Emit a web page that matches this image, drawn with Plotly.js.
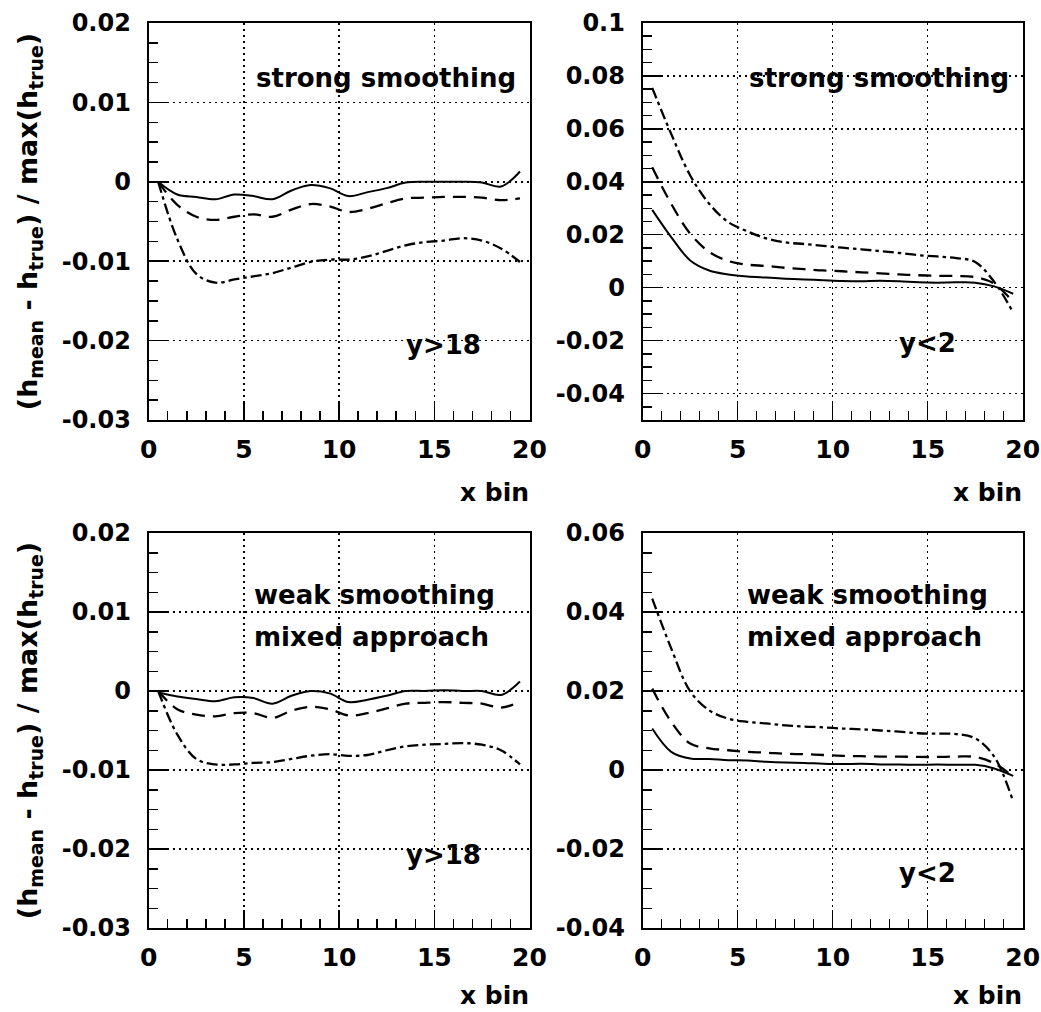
<!DOCTYPE html>
<html><head><meta charset="utf-8">
<script src="https://cdn.plot.ly/plotly-3.0.1.min.js"></script>
<style>html,body{margin:0;padding:0;background:#fff}</style>
</head><body><div id="chart" style="width:1041px;height:1012px"></div>
<script>
// bin centres
const xBin = [0.5,1.5,2.5,3.5,4.5,5.5,6.5,7.5,8.5,9.5,10.5,11.5,12.5,13.5,14.5,15.5,16.5,17.5,18.5,19.5];

// Panel A: strong smoothing, y>18
const aSolid = [0,-0.0016,-0.0019,-0.0022,-0.0016,-0.0018,-0.0022,-0.0011,-0.0004,-0.0008,-0.0018,-0.0013,-0.0008,-0.0001,0,0,0,-0.0001,-0.0006,0.0013];
const aDash  = [0,-0.0029,-0.0044,-0.0048,-0.0044,-0.0041,-0.0044,-0.0035,-0.0028,-0.0031,-0.0038,-0.0034,-0.0027,-0.0021,-0.002,-0.0019,-0.0019,-0.002,-0.0023,-0.0021];
const aDot   = [0,-0.0072,-0.0116,-0.0127,-0.0123,-0.0119,-0.0115,-0.0108,-0.0101,-0.0098,-0.0098,-0.0094,-0.0087,-0.008,-0.0076,-0.0074,-0.0071,-0.0074,-0.0084,-0.0101];

// Panel B: strong smoothing, y<2
const bSolid = [0.0294,0.0191,0.0103,0.0065,0.005,0.0042,0.0038,0.0034,0.0031,0.0028,0.0025,0.0024,0.0026,0.0024,0.002,0.0019,0.002,0.0019,0.0005,-0.0023];
const bDash  = [0.0455,0.0317,0.0204,0.0135,0.0101,0.0087,0.0082,0.0075,0.007,0.0065,0.0062,0.0058,0.0054,0.005,0.0047,0.0045,0.0044,0.004,0.0015,-0.0054];
const bDot   = [0.0755,0.0581,0.0424,0.0317,0.0248,0.0213,0.0186,0.0171,0.0165,0.0158,0.0151,0.0145,0.0138,0.0131,0.0123,0.0118,0.0112,0.0097,0.0022,-0.0094];

// Panel C: weak smoothing / mixed approach, y>18
const cSolid = [-0.0002,-0.0007,-0.001,-0.0013,-0.0008,-0.0009,-0.0016,-0.0006,0,-0.0003,-0.0014,-0.0011,-0.0006,0,0,0.0001,0,0,-0.0005,0.0012];
const cDash  = [0,-0.0023,-0.003,-0.0032,-0.0028,-0.0028,-0.0034,-0.0025,-0.002,-0.0023,-0.0031,-0.0028,-0.0022,-0.0016,-0.0015,-0.0014,-0.0015,-0.0016,-0.0021,-0.0014];
const cDot   = [0,-0.0055,-0.0086,-0.0093,-0.0093,-0.0091,-0.009,-0.0086,-0.0082,-0.008,-0.0082,-0.0081,-0.0075,-0.007,-0.0068,-0.0067,-0.0066,-0.0068,-0.0075,-0.0093];

// Panel D: weak smoothing / mixed approach, y<2
const dSolid = [0.0105,0.0046,0.0029,0.0028,0.0025,0.0024,0.0021,0.0019,0.0018,0.0016,0.0015,0.0016,0.0014,0.0014,0.0013,0.0014,0.0013,0.0013,0.0004,-0.0015];
const dDash  = [0.0206,0.0122,0.0067,0.0055,0.005,0.0046,0.0044,0.0041,0.004,0.0038,0.0036,0.0035,0.0034,0.0034,0.0033,0.0033,0.0034,0.0033,0.0017,-0.0017];
const dDot   = [0.0434,0.0308,0.0199,0.0151,0.013,0.0122,0.0118,0.0113,0.011,0.0108,0.0105,0.0103,0.01,0.0097,0.0093,0.0092,0.0091,0.008,0.0034,-0.008];

// tick labels
const xTickVals = [0,5,10,15,20];
const xTickText = ['0','5','10','15','20'];
const yTickValsA = [-0.03,-0.02,-0.01,0,0.01,0.02];
const yTickTextA = ['-0.03','-0.02','-0.01','0','0.01','0.02'];
const yTickValsB = [-0.04,-0.02,0,0.02,0.04,0.06,0.08,0.1];
const yTickTextB = ['-0.04','-0.02','0','0.02','0.04','0.06','0.08','0.1'];
const yTickValsD = [-0.04,-0.02,0,0.02,0.04,0.06];
const yTickTextD = ['-0.04','-0.02','0','0.02','0.04','0.06'];

const FAM = 'DejaVu Sans, Liberation Sans, Arial, sans-serif';
const W = 1041, H = 1012;
const px = v => v / W;
const py = v => 1 - v / H;

function mk(y, xa, ya, dash) {
  return {x: xBin, y: y, xaxis: xa, yaxis: ya, type: 'scatter', mode: 'lines',
    line: {color: '#000', width: dash === 'solid' ? 2 : 2.3, dash: dash, shape: 'spline', smoothing: 1},
    hoverinfo: 'skip', showlegend: false};
}
const DASH = '13px,8px';
const DDOT = '11px,4px,3.5px,4px';
const traces = [
  mk(aSolid,'x','y','solid'), mk(aDash,'x','y',DASH), mk(aDot,'x','y',DDOT),
  mk(bSolid,'x2','y2','solid'), mk(bDash,'x2','y2',DASH), mk(bDot,'x2','y2',DDOT),
  mk(cSolid,'x3','y3','solid'), mk(cDash,'x3','y3',DASH), mk(cDot,'x3','y3',DDOT),
  mk(dSolid,'x4','y4','solid'), mk(dDash,'x4','y4',DASH), mk(dDot,'x4','y4',DDOT)
];

const common = {
  ticks: 'inside', ticklen: 18, tickwidth: 1.5, tickcolor: '#000',
  showgrid: true, gridcolor: '#000', gridwidth: 1.5, griddash: '2px,4px',
  showline: true, linewidth: 2, linecolor: '#000', mirror: true,
  zeroline: false, fixedrange: true
};
function xAx(d0, d1, anchor) {
  return Object.assign({}, common, {
    domain: [px(d0), px(d1)], anchor: anchor, range: [0, 20],
    tickmode: 'array', tickvals: xTickVals, ticktext: xTickText,
    ticklabelstandoff: 6,
    tickfont: {family: FAM, size: 25, weight: 'bold', color: '#000'},
    minor: {tickmode: 'linear', tick0: 0, dtick: 1, ticks: 'inside', ticklen: 9, tickwidth: 1.5, tickcolor: '#000', showgrid: false}
  });
}
function yAx(t0, t1, anchor, range, vals, text, mdt, title) {
  const o = Object.assign({}, common, {
    domain: [py(t1), py(t0)], anchor: anchor, range: range,
    tickmode: 'array', tickvals: vals, ticktext: text,
    ticklabelstandoff: 11,
    tickfont: {family: FAM, size: 24, weight: 'bold', color: '#000'},
    minor: {tickmode: 'linear', tick0: 0, dtick: mdt, ticks: 'inside', ticklen: 9, tickwidth: 1.5, tickcolor: '#000', showgrid: false}
  });
  if (title) o.title = {text: title, font: {family: FAM, size: 27, weight: 'bold', color: '#000'}, standoff: 16};
  return o;
}
const yTitle = '(h<sub>mean</sub> - h<sub>true</sub>) / max(h<sub>true</sub>)';

const LX0 = 148.7, LX1 = 529.5, RX0 = 642.7, RX1 = 1022.7;
const TY0 = 23, TY1 = 420, BY0 = 533, BY1 = 928;

function ann(text, x, y, xanchor, size, yanchor) {
  return {text: text, x: px(x), y: py(y), xref: 'paper', yref: 'paper', xanchor: xanchor, yanchor: yanchor || 'middle',
    showarrow: false, borderpad: 0, font: {family: FAM, size: size || 26, weight: 'bold', color: '#000'}};
}

const layout = {
  width: W, height: H, margin: {l: 0, r: 0, t: 0, b: 0},
  paper_bgcolor: '#fff', plot_bgcolor: '#fff', showlegend: false,
  xaxis: xAx(LX0, LX1, 'y'), yaxis: yAx(TY0, TY1, 'x', [-0.03, 0.02], yTickValsA, yTickTextA, 0.0025, yTitle),
  xaxis2: xAx(RX0, RX1, 'y2'), yaxis2: yAx(TY0, TY1, 'x2', [-0.05, 0.1], yTickValsB, yTickTextB, 0.005),
  xaxis3: xAx(LX0, LX1, 'y3'), yaxis3: yAx(BY0, BY1, 'x3', [-0.03, 0.02], yTickValsA, yTickTextA, 0.0025, yTitle),
  xaxis4: xAx(RX0, RX1, 'y4'), yaxis4: yAx(BY0, BY1, 'x4', [-0.04, 0.06], yTickValsD, yTickTextD, 0.005),
  annotations: [
    ann('strong smoothing', 517, 78, 'right'),
    ann('y>18', 405, 345, 'left'),
    ann('strong smoothing', 1010, 78, 'right'),
    ann('y<2', 898, 343, 'left'),
    ann('weak smoothing', 253, 595, 'left'),
    ann('mixed approach', 253, 637, 'left'),
    ann('y>18', 405, 855, 'left'),
    ann('weak smoothing', 746, 595, 'left'),
    ann('mixed approach', 746, 637, 'left'),
    ann('y<2', 898, 873, 'left'),
    ann('x bin', LX1, 508, 'right', 25, 'bottom'),
    ann('x bin', RX1, 508, 'right', 25, 'bottom'),
    ann('x bin', LX1, 1011, 'right', 25, 'bottom'),
    ann('x bin', RX1, 1011, 'right', 25, 'bottom')
  ]
};

Plotly.newPlot('chart', traces, layout, {staticPlot: true, displayModeBar: false});
</script></body></html>
